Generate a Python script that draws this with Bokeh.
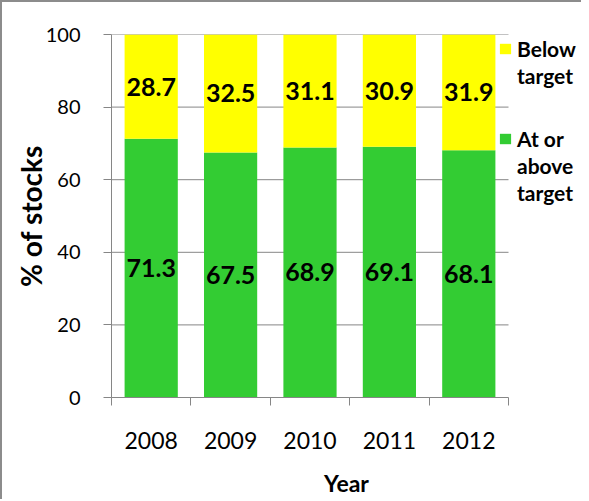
from bokeh.plotting import figure
from bokeh.models import (ColumnDataSource, Range1d, LinearAxis,
                          FixedTicker, LabelSet, Legend, LegendItem)
from bokeh.core.properties import value
from bokeh.embed import file_html
from bokeh.resources import INLINE

years = ["2008", "2009", "2010", "2011", "2012"]
at_or_above = [71.3, 67.5, 68.9, 69.1, 68.1]
below = [28.7, 32.5, 31.1, 30.9, 31.9]
y_ticks = [0, 20, 40, 60, 80, 100]
legend_below = ["Below", "target"]
legend_at = ["At or", "above", "target"]

GREEN = "#33CC33"
YELLOW = "#FFFF00"
GRAY = "#868686"
FONT = "Lato"

year_num = [int(y) for y in years]
edge_ticks = [y - 0.5 for y in year_num] + [year_num[-1] + 0.5]

# layout: plotting area spans 397 px for the five categories, frame extends
# further right to hold the legend
PX_PER_CAT = 397 / len(years)
FRAME_W = 470
FRAME_H = 363
x_end = edge_ticks[0] + FRAME_W / PX_PER_CAT

src = ColumnDataSource(dict(
    year=year_num,
    at=at_or_above,
    below=below,
    at_mid=[a / 2 for a in at_or_above],
    below_mid=[a + b / 2 for a, b in zip(at_or_above, below)],
    at_txt=[f"{a:.1f}" for a in at_or_above],
    below_txt=[f"{b:.1f}" for b in below],
))

grid_src = ColumnDataSource(dict(
    x0=[edge_ticks[0]] * (len(y_ticks) - 1),
    x1=[edge_ticks[-1]] * (len(y_ticks) - 1),
    y=y_ticks[1:],
))

p = figure(x_range=Range1d(edge_ticks[0], x_end),
           y_range=Range1d(0, 100),
           frame_width=FRAME_W, frame_height=FRAME_H,
           min_border_left=109, min_border_top=32, min_border_right=0,
           min_border_bottom=92,
           x_axis_location=None, y_axis_location="left",
           output_backend="svg", toolbar_location=None)
p.outline_line_color = None
p.background_fill_color = "white"
p.border_fill_color = "white"
p.xgrid.visible = False
p.ygrid.visible = False
p.styles = {"border-left": "2px solid #8c8c8c", "border-top": "2px solid #8c8c8c"}

# gridlines over the category area only
p.segment(x0="x0", x1="x1", y0="y", y1="y", source=grid_src,
          line_color=GRAY, line_width=1)

rs = p.vbar_stack(["at", "below"], x="year", width=0.67, source=src,
                  fill_color=[GREEN, YELLOW], line_color=None)

# invisible renderer used for the continuation lines of the legend labels
ghost = p.rect(x=[], y=[], width=0, height=0, fill_alpha=0, line_alpha=0)

# y axis
ya = p.yaxis[0]
ya.ticker = FixedTicker(ticks=y_ticks)
ya.axis_line_color = GRAY
ya.major_tick_line_color = GRAY
ya.major_tick_out = 8
ya.major_tick_in = 0
ya.minor_tick_out = 0
ya.minor_tick_in = 0
ya.major_label_text_font = FONT
ya.major_label_text_font_size = "20px"
ya.major_label_text_color = "black"
ya.major_label_standoff = 23
ya.axis_label = "% of stocks"
ya.axis_label_text_font = FONT
ya.axis_label_text_font_style = "bold"
ya.axis_label_text_font_size = "28px"
ya.axis_label_text_color = "black"
ya.axis_label_standoff = -5

# x axis: labels at category centres, tick marks at category boundaries
xa = LinearAxis(ticker=FixedTicker(ticks=year_num, minor_ticks=edge_ticks),
                bounds=(edge_ticks[0], edge_ticks[-1]),
                major_label_overrides={n: s for n, s in zip(year_num, years)},
                major_tick_out=0, major_tick_in=0,
                minor_tick_out=8, minor_tick_in=0,
                axis_line_color=GRAY, minor_tick_line_color=GRAY,
                major_tick_line_color=None,
                major_label_text_font=FONT,
                major_label_text_font_size="23px",
                major_label_text_color="black",
                major_label_standoff=26,
                axis_label="Year",
                axis_label_text_font=FONT,
                axis_label_text_font_style="bold",
                axis_label_text_font_size="23px",
                axis_label_text_color="black",
                axis_label_standoff=17)
p.add_layout(xa, "below")

for ycol, tcol in (("at_mid", "at_txt"), ("below_mid", "below_txt")):
    p.add_layout(LabelSet(x="year", y=ycol, text=tcol, source=src,
                          text_align="center", text_baseline="middle",
                          text_font=value(FONT), text_font_style="bold",
                          text_font_size="25px", text_color="black"))


def make_legend(lines, renderer, loc):
    items = [LegendItem(label=lines[0], renderers=[renderer])]
    items += [LegendItem(label=t, renderers=[ghost]) for t in lines[1:]]
    return Legend(items=items, location=loc, orientation="vertical",
                  glyph_width=14, glyph_height=13, label_standoff=5,
                  label_height=27, label_width=10,
                  label_text_font=FONT, label_text_font_style="bold",
                  label_text_font_size="21px", label_text_color="black",
                  label_text_baseline="middle",
                  spacing=0, padding=0, margin=0,
                  border_line_color=None, background_fill_alpha=0)


p.add_layout(make_legend(legend_below, rs[1], (387, 308)), "center")
p.add_layout(make_legend(legend_at, rs[0], (387, 191)), "center")

open("out.html", "w").write(file_html(p, INLINE))
